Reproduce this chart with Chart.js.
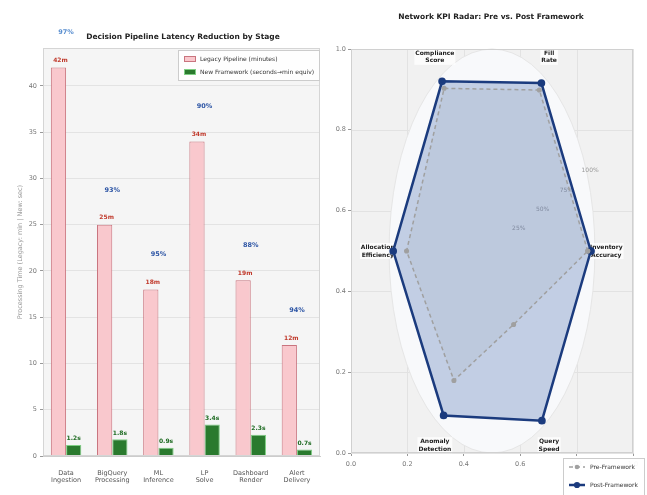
<!DOCTYPE html>
<html><head><meta charset="utf-8">
<script src="https://cdn.jsdelivr.net/npm/chart.js@4.4.1/dist/chart.umd.min.js"></script>
<style>
html,body{margin:0;padding:0;background:#fff;}
#wrap{position:relative;width:647px;height:495px;overflow:hidden;background:#fff;}
#c1{position:absolute;left:0;top:0;}
#c2{position:absolute;left:325px;top:0;}
</style></head><body>
<div id="wrap"><canvas id="c1" width="325" height="495"></canvas><canvas id="c2" width="322" height="495"></canvas></div>
<script>
// ---- Left chart data ----
const stages = [["Data","Ingestion"],["BigQuery","Processing"],["ML","Inference"],["LP","Solve"],["Dashboard","Render"],["Alert","Delivery"]];
const legacyMinutes = [42, 25, 18, 34, 19, 12];
const newSeconds = [1.2, 1.8, 0.9, 3.4, 2.3, 0.7];
const reductionPct = [97, 93, 95, 90, 88, 94];
const barTicks = [0, 5, 10, 15, 20, 25, 30, 35, 40];

// ---- Right chart data ----
const kpiLabels = [["Inventory","Accuracy"],["Fill","Rate"],["Compliance","Score"],["Allocation","Efficiency"],["Anomaly","Detection"],["Query","Speed"]];
const preFramework = [0.93, 0.92, 0.93, 0.83, 0.74, 0.42];
const postFramework = [0.96, 0.96, 0.97, 0.96, 0.94, 0.97];
const ringTicks = [0.25, 0.5, 0.75, 1.0];
const ringLabels = ["25%", "50%", "75%", "100%"];
const axisTicks = [0, 0.2, 0.4, 0.6, 0.8, 1.0];

const FONT = "'DejaVu Sans', sans-serif";
Chart.defaults.font.family = FONT;
Chart.defaults.animation = false;

function font(size, bold){ return (bold ? 'bold ' : '') + size + 'px ' + FONT; }

// ---------- Left chart ----------
const leftPlugin = {
  id: 'leftDeco',
  beforeDraw(chart){
    const {ctx, chartArea: a} = chart;
    ctx.save();
    ctx.fillStyle = '#f5f5f5';
    ctx.fillRect(a.left, a.top, a.right - a.left, a.bottom - a.top);
    ctx.restore();
  },
  afterDatasetsDraw(chart){
    const {ctx, chartArea: a} = chart;
    const ys = chart.scales.y;
    const m0 = chart.getDatasetMeta(0).data, m1 = chart.getDatasetMeta(1).data;
    ctx.save();
    ctx.textAlign = 'center';
    ctx.textBaseline = 'bottom';
    for (let i = 0; i < legacyMinutes.length; i++) {
      ctx.font = font(6, true);
      ctx.fillStyle = '#c0392b';
      ctx.fillText(legacyMinutes[i] + 'm', m0[i].x + 2, m0[i].y - 4);
      ctx.fillStyle = '#1e6b22';
      ctx.fillText(newSeconds[i] + 's', m1[i].x, m1[i].y - 3);
      ctx.font = font(6.5, true);
      ctx.fillStyle = i === 0 ? '#5a8fd0' : '#2d55a5';
      ctx.fillText(reductionPct[i] + '%', (m0[i].x + m1[i].x) / 2, ys.getPixelForValue(legacyMinutes[i] + 3.4));
    }
    // frame
    ctx.strokeStyle = '#d5d5d5';
    ctx.lineWidth = 1;
    ctx.strokeRect(a.left + 0.5, a.top + 0.5, a.right - a.left - 1, a.bottom - a.top - 1);
    // legend
    const lx = 178, ly = 50, lw = 142, lh = 31;
    ctx.fillStyle = 'rgba(255,255,255,0.9)';
    ctx.strokeStyle = '#cccccc';
    ctx.fillRect(lx, ly, lw, lh);
    ctx.strokeRect(lx + 0.5, ly + 0.5, lw - 1, lh - 1);
    const ds = chart.data.datasets;
    ctx.textAlign = 'left';
    ctx.textBaseline = 'middle';
    ctx.font = font(6, false);
    for (let k = 0; k < ds.length; k++) {
      const yy = ly + 9 + k * 13;
      ctx.fillStyle = ds[k].backgroundColor;
      ctx.fillRect(lx + 6, yy - 3, 12, 6);
      ctx.strokeStyle = ds[k].borderColor;
      ctx.strokeRect(lx + 6.5, yy - 2.5, 11, 5);
      ctx.fillStyle = '#333';
      ctx.fillText(ds[k].label, lx + 22, yy);
    }
    // title
    ctx.textAlign = 'center';
    ctx.font = font(7.5, true);
    ctx.fillStyle = '#222';
    ctx.fillText('Decision Pipeline Latency Reduction by Stage', 183, 37);
    ctx.restore();
  }
};

new Chart(document.getElementById('c1'), {
  type: 'bar',
  data: {
    labels: stages,
    datasets: [
      { label: 'Legacy Pipeline (minutes)', data: legacyMinutes, backgroundColor: '#f9c8cd', borderColor: '#c9747e', borderWidth: 1, categoryPercentage: 0.66, barPercentage: 1 },
      { label: 'New Framework (seconds\u2192min equiv)', data: newSeconds, backgroundColor: '#2a7a2e', borderColor: '#7fcf84', borderWidth: 1, categoryPercentage: 0.66, barPercentage: 1 }
    ]
  },
  options: {
    responsive: false, animation: false,
    layout: { padding: { top: 48, right: 5, left: 0, bottom: 0 } },
    plugins: { legend: { display: false }, tooltip: { enabled: false }, title: { display: false } },
    scales: {
      x: {
        grid: { display: false },
        border: { color: '#cccccc' },
        ticks: { font: { size: 6.5 }, color: '#555', maxRotation: 0, autoSkip: false, padding: 5 },
        afterFit(s) { s.height = 39; }
      },
      y: {
        min: 0, max: 44.1,
        afterBuildTicks(s) { s.ticks = barTicks.map(v => ({ value: v })); },
        ticks: { font: { size: 6.5 }, color: '#777', padding: 3 },
        grid: { color: '#e3e3e3', tickLength: 3, tickColor: '#999' },
        border: { color: '#cccccc' },
        title: { display: true, text: 'Processing Time (Legacy: min | New: sec)', font: { size: 6.5 }, color: '#9a9a9a', padding: { top: 16, bottom: 0 } },
        afterFit(s) { s.width = 43; }
      }
    }
  },
  plugins: [leftPlugin]
});

// ---------- Right chart ----------
const RX = 0.365, RY = 0.5, CX = 0.5, CY = 0.5;
const angleOf = i => i * 2 * Math.PI / kpiLabels.length;
function polarPt(v, theta) { return { x: CX + v * RX * Math.cos(theta), y: CY + v * RY * Math.sin(theta) }; }
function closedPolygon(vals) {
  const pts = vals.map((v, i) => polarPt(v, angleOf(i)));
  pts.push(pts[0]);
  return pts;
}

const rightPlugin = {
  id: 'rightDeco',
  beforeDatasetsDraw(chart) {
    const {ctx, chartArea: a, scales: {x, y}} = chart;
    ctx.save();
    ctx.fillStyle = '#f1f1f1';
    ctx.fillRect(a.left, a.top, a.right - a.left, a.bottom - a.top);
    ctx.strokeStyle = '#e2e2e2';
    ctx.lineWidth = 1;
    axisTicks.forEach(t => {
      const px = Math.round(x.getPixelForValue(t)) + 0.5, py = Math.round(y.getPixelForValue(t)) + 0.5;
      ctx.beginPath(); ctx.moveTo(px, a.top); ctx.lineTo(px, a.bottom); ctx.stroke();
      ctx.beginPath(); ctx.moveTo(a.left, py); ctx.lineTo(a.right, py); ctx.stroke();
    });
    // polar ellipse
    const cx = x.getPixelForValue(CX), cy = y.getPixelForValue(CY);
    const rx = x.getPixelForValue(CX + RX) - cx, ry = cy - y.getPixelForValue(CY + RY);
    ctx.beginPath();
    ctx.ellipse(cx, cy, rx, ry, 0, 0, Math.PI * 2);
    ctx.fillStyle = '#f8f9fb';
    ctx.fill();
    ctx.strokeStyle = '#e6e6e6';
    ctx.stroke();
    // ring labels
    ctx.font = font(6, false);
    ctx.fillStyle = '#999';
    ctx.textAlign = 'center';
    ctx.textBaseline = 'middle';
    const th = 22.5 * Math.PI / 180;
    ringTicks.forEach((r, k) => {
      const p = polarPt(r, th);
      ctx.fillText(ringLabels[k], x.getPixelForValue(p.x) + 3, y.getPixelForValue(p.y) - 3);
    });
    // KPI labels
    ctx.font = font(6, true);
    kpiLabels.forEach((lab, i) => {
      const p = polarPt(1.11, angleOf(i));
      const px = x.getPixelForValue(p.x), py = y.getPixelForValue(p.y);
      const w = Math.max(...lab.map(s => ctx.measureText(s).width));
      ctx.fillStyle = 'rgba(255,255,255,0.75)';
      ctx.fillRect(px - w / 2 - 1, py - 8, w + 2, 16);
      ctx.fillStyle = '#222';
      ctx.fillText(lab[0], px, py - 3.5);
      ctx.fillText(lab[1], px, py + 4);
    });
    ctx.restore();
  },
  afterDraw(chart) {
    const {ctx, chartArea: a} = chart;
    ctx.save();
    ctx.strokeStyle = '#d0d0d0';
    ctx.lineWidth = 1;
    ctx.strokeRect(a.left + 0.5, a.top + 0.5, a.right - a.left - 1, a.bottom - a.top - 1);
    // title
    ctx.font = font(7.5, true);
    ctx.fillStyle = '#222';
    ctx.textAlign = 'center';
    ctx.textBaseline = 'middle';
    ctx.fillText('Network KPI Radar: Pre vs. Post Framework', 166, 17);
    // legend
    const lx = 238, ly = 458, lw = 82, lh = 40;
    ctx.fillStyle = 'rgba(255,255,255,0.95)';
    ctx.fillRect(lx, ly, lw, lh);
    ctx.strokeStyle = '#cccccc';
    ctx.strokeRect(lx + 0.5, ly + 0.5, lw - 1, lh - 1);
    const ds = chart.data.datasets;
    ctx.font = font(6, false);
    ctx.textAlign = 'left';
    for (let k = 0; k < ds.length; k++) {
      const yy = ly + 9 + k * 18;
      ctx.strokeStyle = ds[k].borderColor;
      ctx.lineWidth = ds[k].borderWidth;
      ctx.setLineDash(ds[k].borderDash || []);
      ctx.beginPath(); ctx.moveTo(lx + 6, yy); ctx.lineTo(lx + 22, yy); ctx.stroke();
      ctx.setLineDash([]);
      ctx.fillStyle = ds[k].pointBackgroundColor;
      ctx.beginPath(); ctx.arc(lx + 14, yy, ds[k].pointRadius + 0.5, 0, Math.PI * 2); ctx.fill();
      ctx.fillStyle = '#333';
      ctx.fillText(ds[k].label, lx + 27, yy);
    }
    ctx.restore();
  }
};

new Chart(document.getElementById('c2'), {
  type: 'scatter',
  data: {
    datasets: [
      { label: 'Pre-Framework', data: closedPolygon(preFramework), showLine: true, borderColor: '#a0a0a0', borderWidth: 1.5, borderDash: [4, 3],
        backgroundColor: 'rgba(150,155,170,0.10)', fill: 'shape', pointRadius: 1.8, pointBackgroundColor: '#a0a0a0', pointBorderColor: '#a0a0a0', tension: 0 },
      { label: 'Post-Framework', data: closedPolygon(postFramework), showLine: true, borderColor: '#1b3b7e', borderWidth: 2.5,
        backgroundColor: 'rgba(70,105,175,0.30)', fill: 'shape', pointRadius: 2.6, pointBackgroundColor: '#1b3b7e', pointBorderColor: '#1b3b7e', tension: 0 }
    ]
  },
  options: {
    responsive: false, animation: false,
    layout: { padding: { top: 49, right: 14, left: 0, bottom: 0 } },
    plugins: { legend: { display: false }, tooltip: { enabled: false } },
    scales: {
      x: {
        type: 'linear', min: 0, max: 1,
        afterBuildTicks(s) { s.ticks = axisTicks.map(v => ({ value: v })); },
        ticks: { font: { size: 6.5 }, color: '#777', callback: v => v.toFixed(1), padding: 4 },
        grid: { color: '#e2e2e2', tickLength: 3, tickColor: '#999' },
        border: { color: '#d0d0d0' },
        afterFit(s) { s.height = 42; }
      },
      y: {
        type: 'linear', min: 0, max: 1,
        afterBuildTicks(s) { s.ticks = axisTicks.map(v => ({ value: v })); },
        ticks: { font: { size: 6.5 }, color: '#777', callback: v => v.toFixed(1), padding: 2 },
        grid: { color: '#e2e2e2', tickLength: 3, tickColor: '#999' },
        border: { color: '#d0d0d0' },
        afterFit(s) { s.width = 26; }
      }
    }
  },
  plugins: [rightPlugin]
});
</script>
</body></html>
